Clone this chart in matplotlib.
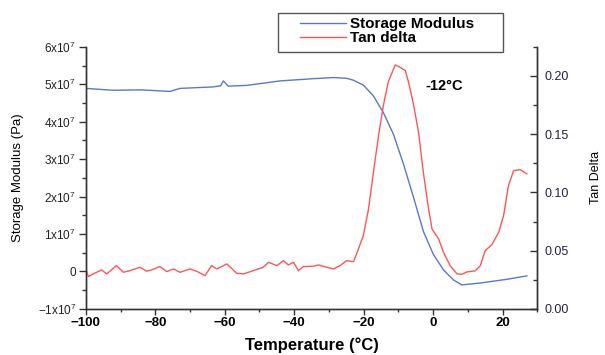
import matplotlib
matplotlib.use("Agg")
import matplotlib.pyplot as plt
from matplotlib.ticker import MultipleLocator, FuncFormatter
from matplotlib.lines import Line2D
from matplotlib.patches import Rectangle

plt.rcParams['font.family'] = ['Liberation Sans', 'DejaVu Sans']
plt.rcParams['mathtext.fontset'] = 'custom'
plt.rcParams['mathtext.rm'] = 'Liberation Sans'
plt.rcParams['mathtext.bf'] = 'Liberation Sans:bold'

# Storage modulus (Pa, in units of 1e7)
temp_storage = [-100, -92.1, -84, -75.8, -72.9, -63.3, -61.2, -60.4, -59, -53.7,
                -44.1, -34.5, -28.7, -24.9, -23, -20.1, -17.2, -14.3, -11.4, -8.5,
                -5.6, -2.8, 0.1, 3.0, 5.9, 8.3, 13.6, 21.3, 27.0]
storage_e7 = [4.89, 4.84, 4.85, 4.81, 4.89, 4.93, 4.96, 5.09, 4.95, 4.97,
              5.09, 5.15, 5.18, 5.16, 5.11, 4.98, 4.69, 4.24, 3.66, 2.86,
              1.97, 1.07, 0.45, 0.04, -0.23, -0.36, -0.31, -0.21, -0.12]

# Tan delta
temp_tan = [-100.0, -99.3, -97.9, -95.5, -94.0, -91.2, -89.2, -87.3, -84.4, -82.5,
            -81.1, -78.7, -76.7, -74.8, -72.9, -70.0, -68.1, -65.7, -63.8, -62.3,
            -59.4, -56.6, -54.6, -51.8, -48.9, -47.4, -45.0, -43.1, -41.7, -40.2,
            -38.8, -37.4, -34.5, -33.0, -30.6, -28.7, -26.8, -24.9, -22.9, -21.5,
            -20.1, -18.6, -17.2, -15.7, -14.3, -12.9, -10.9, -9.5, -8.0, -7.1,
            -5.6, -4.2, -2.8, -1.3, -0.3, 1.6, 3.0, 4.9, 6.9, 8.3,
            9.7, 12.1, 13.6, 15.0, 16.9, 18.9, 20.3, 21.7, 23.2, 25.1, 27.0]
tan_delta = [0.0343, 0.0277, 0.0300, 0.0334, 0.0300, 0.0371, 0.0314, 0.0328, 0.0357, 0.0323,
             0.0334, 0.0363, 0.0320, 0.0343, 0.0314, 0.0343, 0.0323, 0.0285, 0.0371, 0.0343,
             0.0386, 0.0306, 0.0300, 0.0328, 0.0357, 0.0400, 0.0371, 0.0414, 0.0377, 0.0400,
             0.0328, 0.0363, 0.0366, 0.0377, 0.0357, 0.0343, 0.0371, 0.0414, 0.0405, 0.0515,
             0.0629, 0.0858, 0.117, 0.149, 0.175, 0.195, 0.2095, 0.2075, 0.2046, 0.195,
             0.175, 0.1517, 0.117, 0.0858, 0.0686, 0.060, 0.0486, 0.0371, 0.030, 0.0297,
             0.0317, 0.0326, 0.0371, 0.050, 0.0549, 0.0658, 0.080, 0.1058, 0.1187, 0.1196, 0.1159]

x_ticks = [-100, -80, -60, -40, -20, 0, 20]
peak_label = "-12°C"

blue = '#5a78c8'
red = '#ff5555'

fig = plt.figure(figsize=(6.05, 3.55), dpi=100)
ax = fig.add_axes([0.142, 0.130, 0.746, 0.738])
ax2 = ax.twinx()

ax.plot(temp_storage, [v * 1e7 for v in storage_e7], color=blue, lw=1.0)
ax2.plot(temp_tan, tan_delta, color=red, lw=1.0)

ax.set_xlim(-100, 30)
ax.set_ylim(-1e7, 6e7)
ax2.set_ylim(0, 0.225)

for a in (ax, ax2):
    a.spines['top'].set_visible(False)
    for s in a.spines.values():
        s.set_color('#333333')
        s.set_linewidth(1.0)

ax.set_xticks(x_ticks)
ax.xaxis.set_minor_locator(MultipleLocator(10))
ax.yaxis.set_major_locator(MultipleLocator(1e7))
ax.yaxis.set_minor_locator(MultipleLocator(0.5e7))


def sci_fmt(v, pos):
    n = int(round(v / 1e7))
    if n == 0:
        return "0"
    return r"$\mathregular{%dx10^7}$" % n


ax.yaxis.set_major_formatter(FuncFormatter(sci_fmt))
ax.tick_params(axis='x', which='major', direction='out', length=4, width=1,
               labelsize=9.5, pad=2, colors='#333333', labelcolor='black')
ax.tick_params(axis='x', which='minor', direction='out', length=2.5, width=1, colors='#333333')
for lab in ax.get_xticklabels():
    lab.set_fontweight('bold')
ax.tick_params(axis='y', which='major', direction='out', length=5, width=1,
               labelsize=8.5, pad=2, colors='#333333', labelcolor='#222222')
ax.tick_params(axis='y', which='minor', direction='out', length=3, width=1, colors='#333333')

ax2.yaxis.set_major_locator(MultipleLocator(0.05))
ax2.yaxis.set_minor_locator(MultipleLocator(0.025))
ax2.yaxis.set_major_formatter(FuncFormatter(lambda v, p: "%.2f" % v))
ax2.tick_params(axis='y', which='major', direction='in', length=5, width=1,
                labelsize=9, pad=5, colors='#333333', labelcolor='#222244')
ax2.tick_params(axis='y', which='minor', direction='in', length=3, width=1, colors='#333333')

fig.text(0.515, 0.028, "Temperature (°C)", ha='center', va='center',
         fontsize=12, fontweight='bold')
fig.text(0.030, 0.50, "Storage Modulus (Pa)", rotation=90, ha='center', va='center',
         fontsize=9.5)
fig.text(0.985, 0.50, "Tan Delta", rotation=90, ha='center', va='center', fontsize=9)

ax2.text(-2.3, 0.1915, peak_label, ha='left', va='center', fontsize=10.5, fontweight='bold')

# Legend: frame drawn separately so it can be wider than its contents
fig.patches.append(Rectangle((278 / 605, 1 - 52 / 355), 225 / 605, 39 / 355,
                             transform=fig.transFigure, fill=False,
                             edgecolor='#555555', linewidth=1.0))
handles = [Line2D([], [], color=blue, lw=1.0), Line2D([], [], color=red, lw=1.0)]
leg = fig.legend(handles, ["Storage Modulus", "Tan delta"], loc='upper left',
                 bbox_to_anchor=(300 / 605, 1 - 17 / 355), frameon=False,
                 prop={'weight': 'bold', 'size': 11}, handlelength=3.0,
                 handletextpad=0.3, borderpad=0.0, labelspacing=0.0,
                 borderaxespad=0)

fig.savefig("out.png", dpi=100)
